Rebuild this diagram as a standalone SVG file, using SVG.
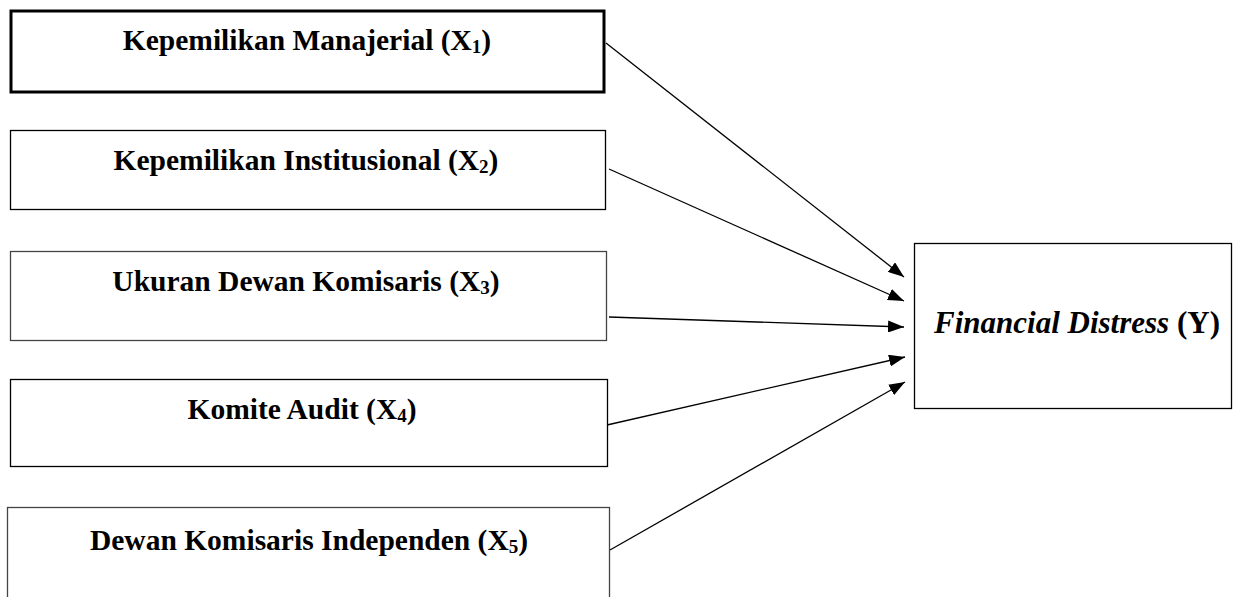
<svg xmlns="http://www.w3.org/2000/svg" width="1234" height="597" viewBox="0 0 1234 597">
<defs>
<marker id="ah" markerWidth="16" markerHeight="12" refX="16" refY="6" orient="auto" markerUnits="userSpaceOnUse">
<path d="M0,0 L16,6 L0,12 Z" fill="#000"/>
</marker>
<style>
.box{fill:#fff;stroke:#000;stroke-width:1.3}
.thick{stroke-width:3}
.grey{stroke:#444}
.lbl{font-family:"Liberation Serif","Times New Roman",serif;font-size:29.5px;font-weight:bold;fill:#000;text-anchor:middle}
.sub{font-size:19px}
.it{font-style:italic}
.big{font-size:31px}
.conn{stroke:#000;stroke-width:1.3;fill:none;marker-end:url(#ah)}
</style>
</defs>
<rect width="1234" height="597" fill="#fff"/>
<g id="x1">
<rect class="box thick" x="11" y="11" width="593" height="81"/>
<text class="lbl" x="307" y="50">Kepemilikan Manajerial (X<tspan class="sub" dy="3">1</tspan><tspan dy="-3">)</tspan></text>
</g>
<g id="x2">
<rect class="box" x="10.5" y="130.5" width="595" height="79"/>
<text class="lbl" x="306" y="170">Kepemilikan Institusional (X<tspan class="sub" dy="3">2</tspan><tspan dy="-3">)</tspan></text>
</g>
<g id="x3">
<rect class="box grey" x="10.5" y="251.5" width="596" height="89"/>
<text class="lbl" x="306" y="291">Ukuran Dewan Komisaris (X<tspan class="sub" dy="3">3</tspan><tspan dy="-3">)</tspan></text>
</g>
<g id="x4">
<rect class="box" x="10.5" y="379.5" width="597" height="87"/>
<text class="lbl" x="302" y="419">Komite Audit (X<tspan class="sub" dy="3">4</tspan><tspan dy="-3">)</tspan></text>
</g>
<g id="x5">
<rect class="box grey" x="7.5" y="507.5" width="602" height="100"/>
<text class="lbl" x="309" y="550">Dewan Komisaris Independen (X<tspan class="sub" dy="3">5</tspan><tspan dy="-3">)</tspan></text>
</g>
<g id="y">
<rect class="box" x="914.5" y="243.5" width="317" height="165"/>
<text class="lbl big" x="1077" y="333"><tspan class="it">Financial Distress</tspan> (Y)</text>
</g>
<g id="connectors">
<line class="conn" x1="606" y1="43" x2="904" y2="277"/>
<line class="conn" x1="609" y1="169" x2="904" y2="301"/>
<line class="conn" x1="609" y1="317" x2="904" y2="327"/>
<line class="conn" x1="607" y1="425" x2="905" y2="357"/>
<line class="conn" x1="610" y1="550" x2="905" y2="382"/>
</g>
</svg>
